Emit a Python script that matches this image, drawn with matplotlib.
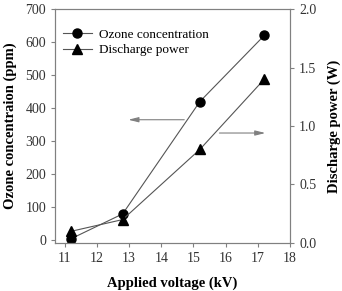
import matplotlib.pyplot as plt

plt.rcParams['font.family'] = 'Liberation Serif'

voltage = [11.2, 12.8, 15.2, 17.2]
ozone = [5, 80, 420, 620]
power = [0.1, 0.2, 0.8, 1.4]

fig = plt.figure(figsize=(3.42, 2.91), dpi=100)
ax = fig.add_axes([0.161, 0.165, 0.687, 0.804])
ax2 = ax.twinx()

gray = '#808080'
l1, = ax.plot(voltage, ozone, color='#555555', lw=0.8, marker='o', ms=6.5,
              mfc='black', mec='black', label='Ozone concentration')
l2, = ax2.plot(voltage, power, color='#555555', lw=0.8, marker='^', ms=6.5,
               mfc='black', mec='black', label='Discharge power')

ax.set_xlim(10.7, 18)
ax.set_ylim(-8, 700)
ax2.set_ylim(0, 2)
ax.set_xticks(range(11, 19))
ax.set_yticks(range(0, 701, 100))
ax2.set_yticks([0, 0.5, 1.0, 1.5, 2.0])
ax2.set_yticklabels(['0.0', '0.5', '1.0', '1.5', '2.0'])

for a in (ax, ax2):
    for s in a.spines.values():
        s.set_color(gray)
    a.tick_params(colors=gray, labelcolor='#333333', labelsize=10, length=3, width=0.8)

ax.set_xlabel('Applied voltage (kV)', fontsize=10.5, fontweight='bold', labelpad=8)
ax.set_ylabel('Ozone concentraion (ppm)', fontsize=10.5, fontweight='bold', labelpad=6)
ax2.set_ylabel('Discharge power (W)', fontsize=10.5, fontweight='bold', labelpad=8)

ax.annotate('', xy=(12.89, 365), xytext=(14.8, 365),
            arrowprops=dict(arrowstyle='-|>,head_length=0.6,head_width=0.15',
                            color=gray, lw=0.8, mutation_scale=10))
ax2.annotate('', xy=(17.32, 0.94), xytext=(15.72, 0.94),
             arrowprops=dict(arrowstyle='-|>,head_length=0.6,head_width=0.15',
                             color=gray, lw=0.8, mutation_scale=10))

ax.legend(handles=[l1, l2], loc='upper left', bbox_to_anchor=(0.0, 0.95),
          frameon=False, fontsize=9.5, handlelength=2.2, handletextpad=0.5,
          borderaxespad=0.2, labelspacing=0.25)

fig.savefig('out.png', dpi=100)
